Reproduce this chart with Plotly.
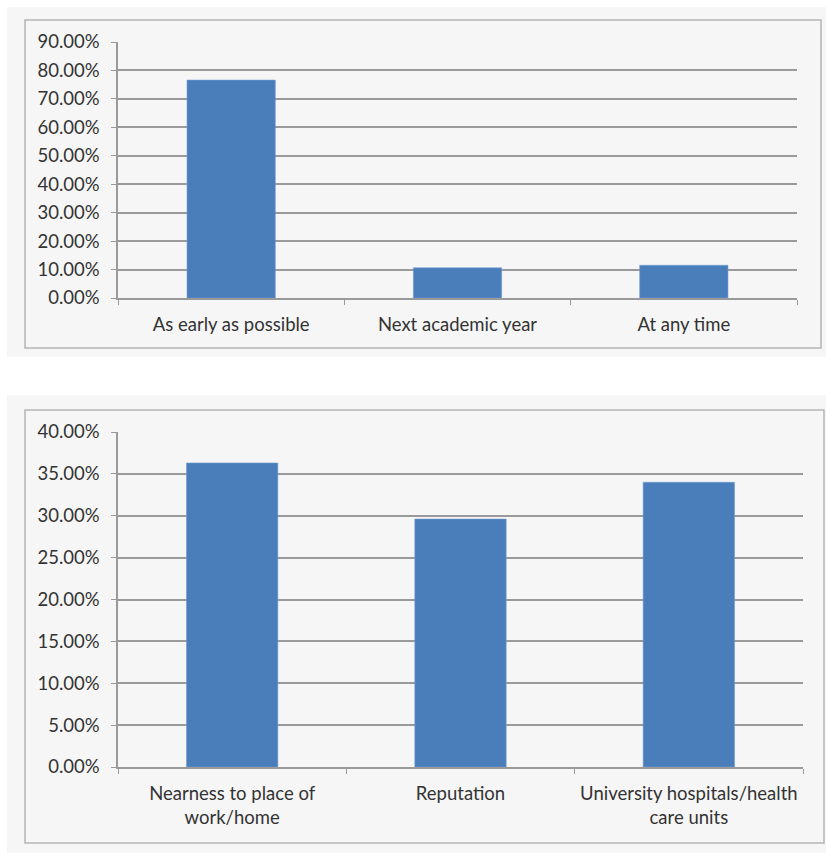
import plotly.graph_objects as go
from plotly.subplots import make_subplots

# Survey results: preferred timing and reasons for choice
timing_categories = ["As early as possible", "Next academic year", "At any time"]
timing_shares = [0.766, 0.106, 0.115]
timing_ticks = [0.0, 0.1, 0.2, 0.3, 0.4, 0.5, 0.6, 0.7, 0.8, 0.9]

reason_categories = ["Nearness to place of<br>work/home", "Reputation",
                     "University hospitals/health<br>care units"]
reason_shares = [0.363, 0.296, 0.340]
reason_ticks = [0.0, 0.05, 0.10, 0.15, 0.20, 0.25, 0.30, 0.35, 0.40]

W, H = 826, 855
BAR = "#4a7ebb"
GRID = "#9a9a9a"
TEXT = "#333333"
FONT = "Lato"


def px_x(v):
    return v / W


def px_y(v):
    return 1 - v / H


fig = make_subplots(rows=2, cols=1)

fig.add_trace(go.Bar(x=timing_categories, y=timing_shares, width=0.39,
                     marker=dict(color=BAR, line=dict(color="#6f9ad0", width=0.6)),
                     showlegend=False), row=1, col=1)
fig.add_trace(go.Bar(x=reason_categories, y=reason_shares, width=0.4,
                     marker=dict(color=BAR, line=dict(color="#6f9ad0", width=0.6)),
                     showlegend=False), row=2, col=1)

axis_font = dict(family=FONT, size=18.5, color=TEXT)

common_x = dict(showline=True, linecolor=GRID, linewidth=1.5,
                ticks="outside", tickson="boundaries", ticklen=5, tickcolor=GRID,
                showgrid=False, tickfont=axis_font, automargin=False,
                ticklabelstandoff=9)
common_y = dict(showline=True, linecolor=GRID, linewidth=1.5,
                ticks="outside", ticklen=5, tickcolor=GRID,
                showgrid=True, gridcolor=GRID, gridwidth=1.5,
                zeroline=False, tickfont=axis_font, tickformat=".2%",
                automargin=False, ticklabelstandoff=8)

fig.update_layout(
    width=W, height=H,
    margin=dict(l=0, r=0, t=0, b=0, autoexpand=False),
    paper_bgcolor="white",
    plot_bgcolor="rgba(0,0,0,0)",
    xaxis=dict(domain=[px_x(118), px_x(797)], anchor="y", **common_x),
    yaxis=dict(domain=[px_y(298), px_y(42)], anchor="x", range=[0, 0.9],
               tickvals=timing_ticks, **common_y),
    xaxis2=dict(domain=[px_x(118), px_x(803)], anchor="y2", **common_x),
    yaxis2=dict(domain=[px_y(767), px_y(432)], anchor="x2", range=[0, 0.4],
                tickvals=reason_ticks, **common_y),
)

# Chart panels: light background and thin frame around each chart
panels = [
    ((7, 7, 826, 357), (25, 20, 821, 348)),
    ((7, 395, 826, 853), (25, 410, 824, 843)),
]
shapes = []
for (bx0, by0, bx1, by1), (fx0, fy0, fx1, fy1) in panels:
    shapes.append(dict(type="rect", xref="paper", yref="paper", layer="below",
                       x0=px_x(bx0), x1=px_x(bx1), y0=px_y(by1), y1=px_y(by0),
                       fillcolor="#f6f6f6", line=dict(width=0)))
    shapes.append(dict(type="rect", xref="paper", yref="paper", layer="below",
                       x0=px_x(fx0), x1=px_x(fx1), y0=px_y(fy1), y1=px_y(fy0),
                       fillcolor="rgba(0,0,0,0)", line=dict(color="#b5b5b5", width=1.5)))
fig.update_layout(shapes=shapes)

fig.write_html("out.html")
